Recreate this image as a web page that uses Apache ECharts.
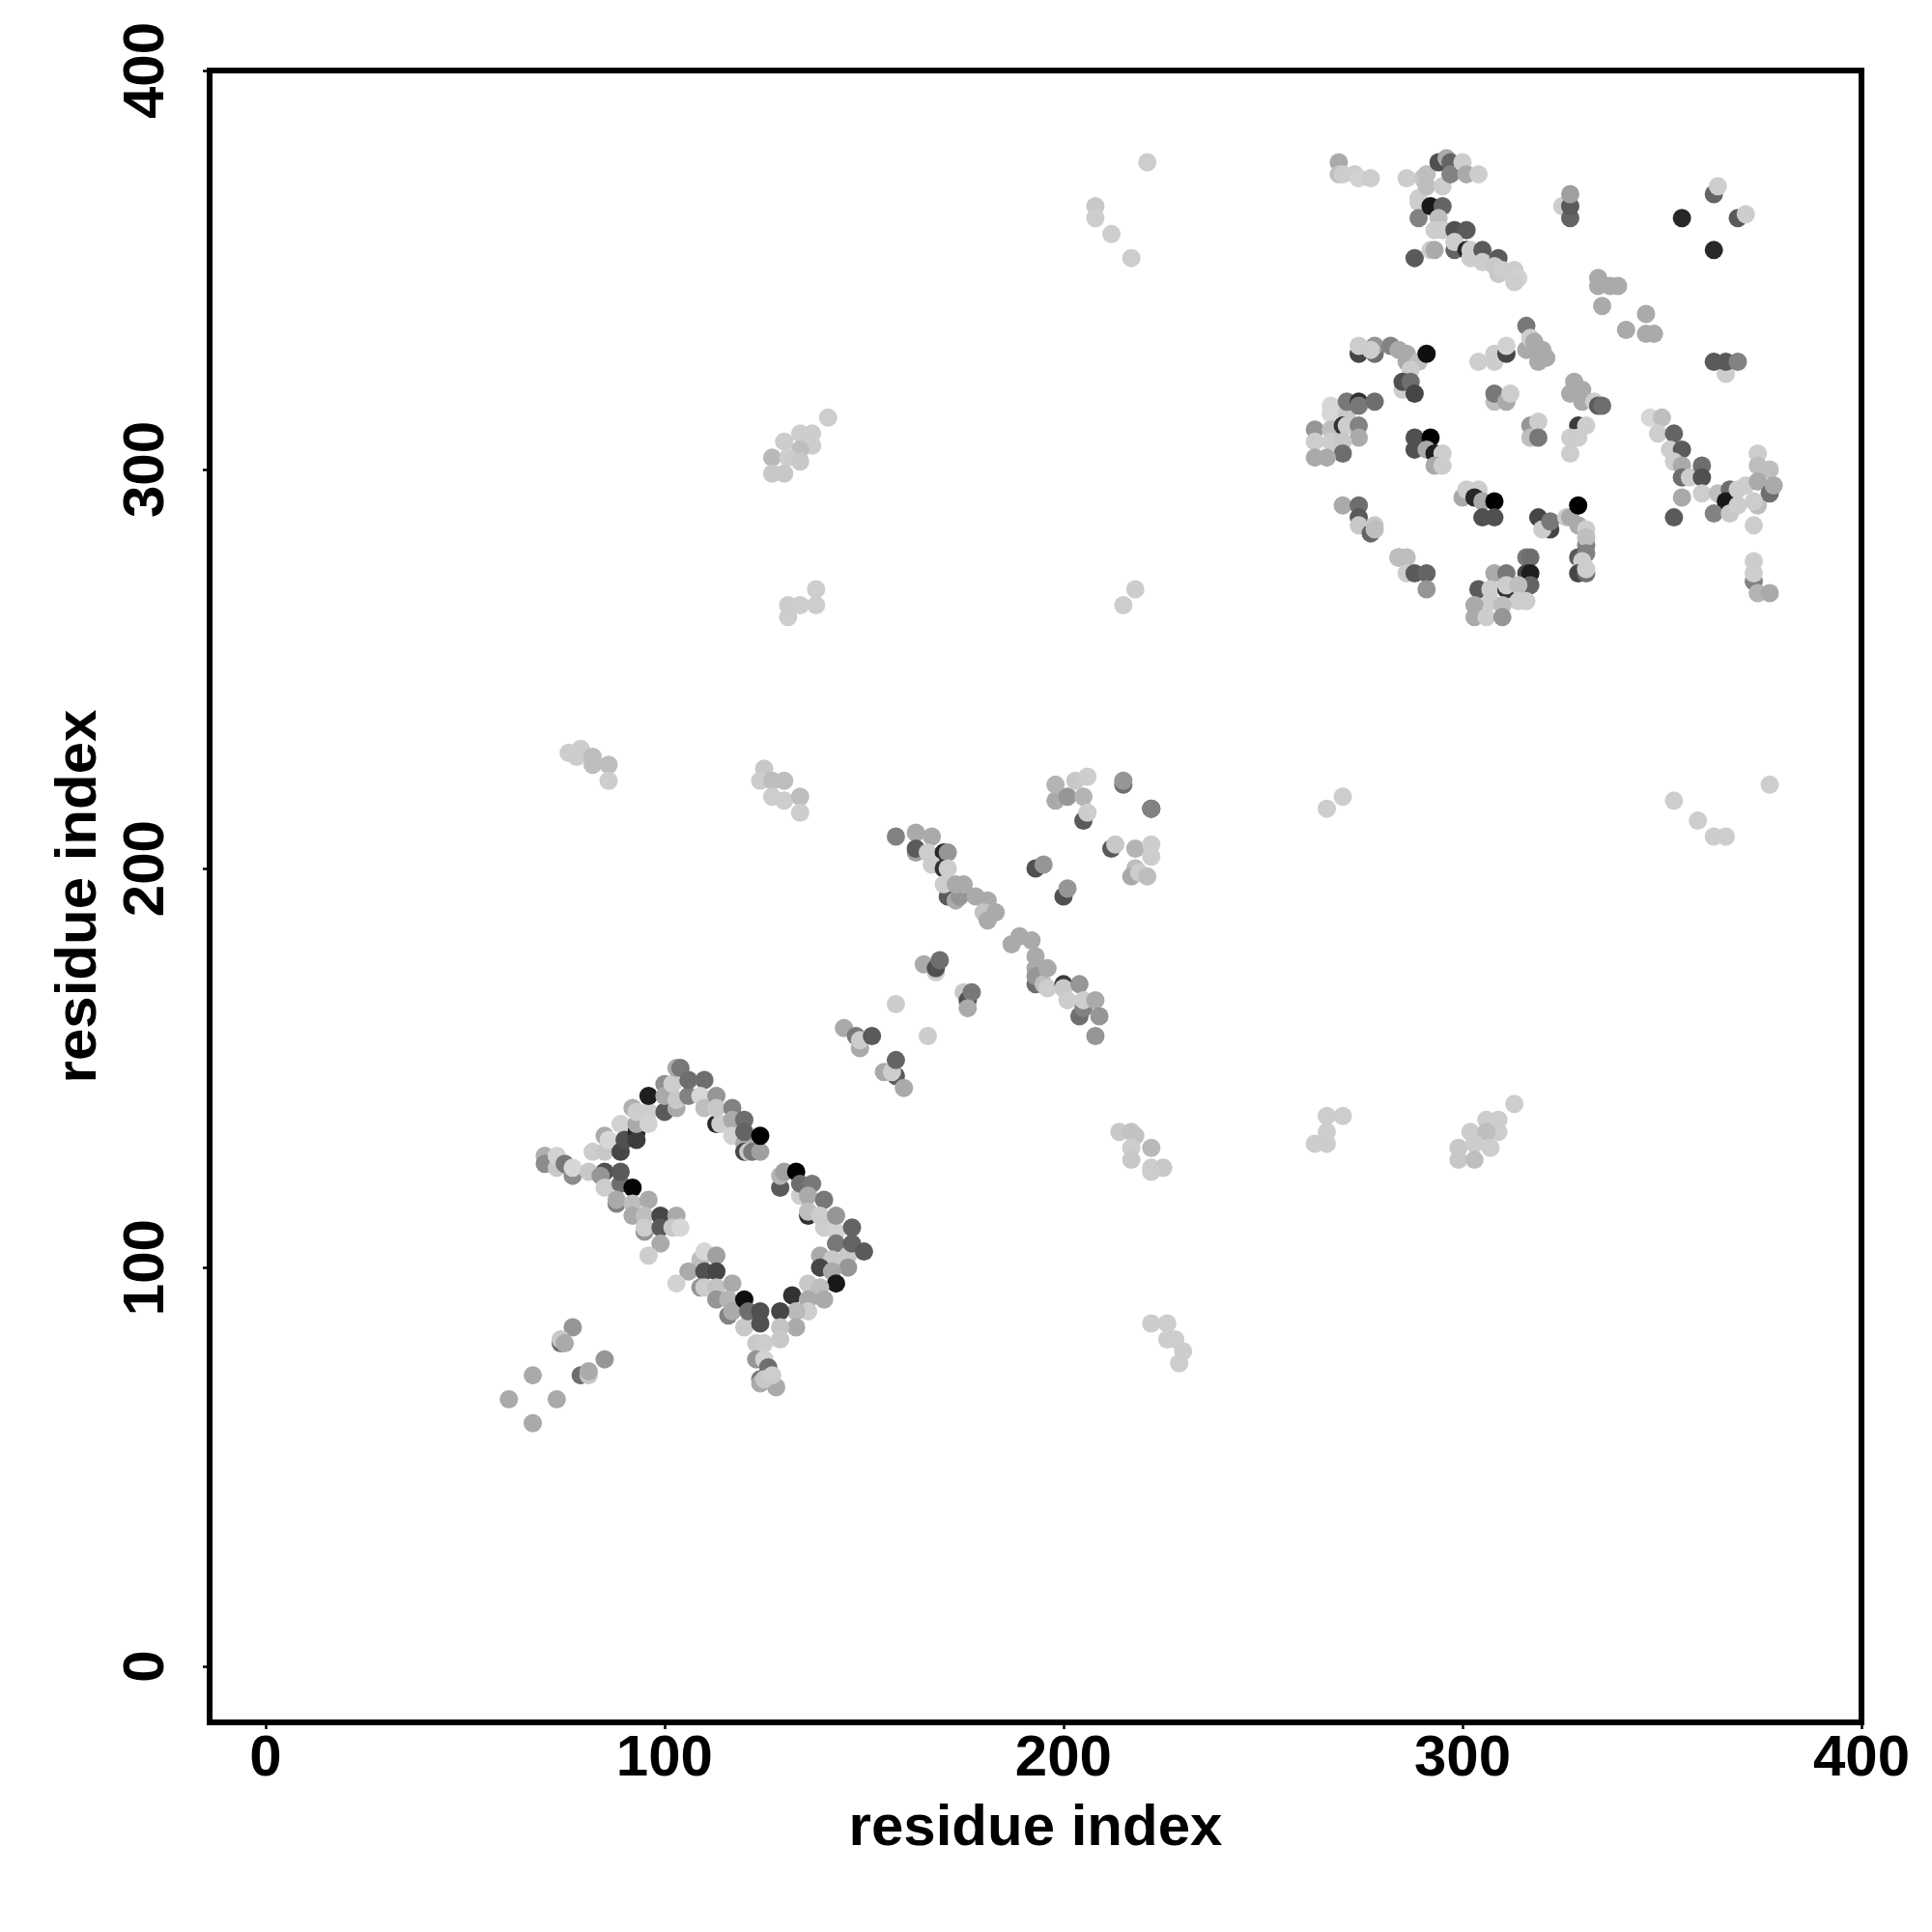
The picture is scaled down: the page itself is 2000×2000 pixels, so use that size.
<!DOCTYPE html>
<html><head><meta charset="utf-8">
<style>html,body{margin:0;padding:0;background:#fff}#c{width:2000px;height:2000px}</style>
<script src="https://cdn.jsdelivr.net/npm/echarts@6/dist/echarts.min.js"></script>
</head><body><div id="c"></div>
<script>
// each contact: [residue i, residue j, grey level]
const tickValues = [0, 100, 200, 300, 400];
const xName = 'residue index';
const yName = 'residue index';
const lowerLeft = [[61,67,170],[67,73,170],[73,67,170],[67,61,170],[77,85,150],[74,81,110],[74,82,200],[75,81,170],[85,77,150],[79,73,110],[81,73,200],[81,74,170]];
const rectTopLeft = [[70,128,175],[70,126,140],[73,125,200],[73,128,210],[75,126,120],[77,123,140],[77,125,215],[81,124,200],[82,129,205],[85,129,200],[85,133,170],[86,132,215],[89,136,210],[89,129,70],[90,132,80],[93,134,35],[93,132,60],[93,136,170],[92,140,175],[93,139,205],[96,139,205],[96,136,210],[100,139,90],[103,140,170],[96,143,30],[100,146,145],[100,143,170],[103,142,200],[102,146,205],[103,150,170],[104,150,120],[106,143,130],[106,147,110],[110,147,110]];
const rectTopRight = [[109,143,215],[110,140,190],[113,136,40],[113,143,150],[113,140,200],[114,136,205],[117,140,130],[117,137,170],[117,133,210],[120,131,170],[120,129,70],[121,129,200],[122,129,120],[124,129,160],[120,137,110],[120,134,100],[124,133,0]];
const rectRight = [[129,120,90],[129,123,180],[130,124,160],[133,124,0],[134,118,205],[134,121,110],[137,121,120],[136,118,170],[136,113,50],[136,114,190],[140,117,120],[139,113,205],[140,110,205],[143,109,210],[143,113,150],[147,110,100],[143,106,120],[146,103,200],[147,106,100],[150,104,90],[139,103,170],[142,102,200],[139,100,70],[146,100,150],[142,99,170],[143,96,25],[136,96,200],[139,95,190],[140,92,170],[132,93,50],[136,92,170],[136,89,205],[133,89,185],[129,89,70],[133,85,170],[129,85,195],[129,82,200]];
const rectLeft = [[85,124,80],[84,123,150],[85,120,205],[89,121,110],[89,124,90],[92,120,5],[88,116,130],[88,117,170],[92,116,190],[96,117,170],[92,113,170],[95,113,190],[99,113,70],[103,113,170],[95,109,150],[95,110,205],[99,110,90],[102,110,200],[104,110,215],[99,106,170],[96,103,205]];
const rectBottom = [[109,102,190],[110,104,215],[113,103,160],[106,99,170],[110,99,80],[113,99,70],[103,96,210],[109,95,150],[110,95,205],[113,95,195],[113,92,150],[117,96,170],[116,88,130],[116,92,180],[117,89,170],[120,92,15],[120,85,200],[121,89,110],[124,89,80],[124,86,80],[123,81,200],[125,81,205],[123,77,150],[125,77,210],[124,72,120],[124,71,170],[128,70,170],[126,75,110],[125,72,200],[127,73,205]];
const diagUpper = [[158,208,130],[163,209,170],[163,204,160],[163,205,90],[167,208,170],[166,204,205],[170,204,40],[171,204,150],[167,201,205],[170,200,50],[171,200,205],[171,193,90],[170,196,205],[173,192,170],[174,193,150],[173,196,170],[175,196,170],[178,193,170],[181,192,170],[180,189,195],[183,189,170],[181,187,170]];
const diagLower = [[189,183,170],[187,181,170],[192,182,170],[193,178,170],[193,175,170],[193,171,110],[193,173,150],[195,171,190],[196,175,170],[196,170,205],[200,171,60],[200,170,200],[204,171,150],[201,167,205],[204,163,110],[205,165,130],[205,167,205],[208,167,170],[209,163,150],[208,158,150]];
const offDiag = [[193,200,80],[195,201,150],[200,193,80],[201,195,150],[158,166,205],[166,158,205],[165,176,170],[168,174,205],[168,175,80],[169,177,110],[175,169,200],[176,167,80],[177,169,120],[176,165,170],[145,160,170],[148,158,120],[149,155,170],[149,157,205],[152,158,90],[155,149,170],[158,148,90],[157,149,205],[158,152,100],[160,145,170]];
const upperCluster = [[198,217,170],[198,221,180],[201,218,150],[203,222,200],[205,218,180],[206,223,205],[205,212,90],[206,214,205],[215,221,110],[215,222,150],[222,215,90],[222,215,130],[212,205,90],[213,206,200],[218,205,180],[222,206,205],[222,203,205],[218,200,190],[217,198,170],[219,199,205],[221,198,190]];
const topRightA = [[269,377,170],[269,374,190],[270,374,205],[273,374,205],[274,373,210],[277,373,205],[286,373,205],[290,373,200],[291,374,190],[289,368,205],[289,367,205],[291,371,190],[289,363,130],[292,366,25],[295,366,100],[295,371,205],[294,377,80],[296,378,170],[297,377,100],[297,374,130],[300,377,205],[301,374,170],[304,374,205],[294,363,190],[293,360,205],[295,360,205],[298,360,80],[301,360,90],[298,355,100],[298,357,205],[288,353,90],[292,355,205],[293,355,170],[301,355,40],[302,355,205],[302,353,205],[305,355,90],[305,352,205],[309,353,90],[308,351,200],[309,349,200],[310,350,205],[313,350,205],[314,348,210],[313,347,205]];
const topRightB = [[325,366,205],[327,363,100],[327,366,90],[327,369,160],[363,369,100],[364,371,205],[369,363,90],[371,364,205],[355,363,40],[363,355,40],[334,348,170],[334,346,170],[337,346,170],[339,346,170],[335,341,170],[346,339,170],[346,334,170],[348,334,170],[341,335,170]];
const ringTop = [[316,336,120],[316,330,170],[317,333,205],[318,332,170],[320,330,170],[319,327,170],[321,328,170],[304,327,205],[308,329,205],[308,327,205],[311,329,70],[311,331,210],[274,329,70],[274,331,205],[278,329,110],[278,331,150],[277,330,205],[282,331,130],[284,330,170],[286,329,170],[286,327,170],[289,327,190],[287,325,205],[291,329,15],[285,320,205],[285,322,80],[287,322,110],[288,319,70],[366,324,205],[363,327,90],[366,327,90],[369,327,130],[308,317,190],[308,319,120],[311,317,170],[312,319,205],[328,322,170],[327,319,170],[330,320,170],[330,317,170],[333,317,205],[334,316,90],[335,316,110]];
const ringLeft = [[267,316,215],[267,314,215],[271,314,200],[271,317,120],[274,317,50],[274,316,120],[278,317,110],[263,310,150],[267,310,190],[270,311,50],[271,311,205],[274,311,130],[274,308,170],[263,307,205],[267,307,205],[270,307,200],[270,304,110],[263,303,170],[266,303,170],[288,308,80],[288,305,80],[292,308,0],[291,305,170],[293,304,30],[295,304,205],[293,301,170],[295,301,205],[317,311,150],[319,312,205],[317,308,190],[319,308,120],[329,311,60],[331,311,205],[327,308,205],[329,308,205],[327,304,205]];
const rightArm = [[347,313,215],[350,313,190],[349,309,205],[353,309,100],[352,305,205],[355,305,90],[353,302,205],[355,301,170],[355,298,110],[357,298,205],[360,301,110],[360,298,80],[355,293,170],[353,288,90],[360,294,205],[364,294,190],[367,295,110],[366,292,25],[363,289,130],[367,289,200],[369,291,205],[369,295,205],[371,296,205],[374,291,190],[373,286,205],[374,304,205],[374,301,190],[377,300,190],[374,297,170],[377,294,110],[378,296,170],[373,292,205],[373,277,205],[373,272,130],[373,274,205],[374,269,180],[377,269,170]];
const ringBottom = [[270,291,170],[274,291,110],[274,288,90],[274,286,200],[277,284,100],[278,286,200],[278,285,190],[300,293,170],[301,295,205],[304,295,205],[303,293,40],[305,292,170],[308,292,0],[305,288,80],[308,288,80],[319,288,70],[322,285,70],[320,285,205],[322,287,120],[326,288,205],[327,288,170],[329,291,0],[329,286,170],[331,285,205],[331,281,130],[331,283,190],[329,278,90],[331,279,130],[330,277,205],[329,274,70],[331,274,110],[331,275,205],[284,278,110],[284,278,190],[286,278,190],[286,274,205],[288,274,90],[291,274,100],[291,270,150],[316,278,120],[317,278,110],[316,274,70],[317,274,30],[317,271,100],[308,274,170],[311,274,120],[304,270,90],[307,270,205],[311,270,50],[311,271,205],[314,271,190],[314,267,205],[316,267,205],[307,267,205],[310,266,190],[303,266,170],[303,263,170],[306,263,205],[310,263,150]];
const lightClusters = [[208,366,200],[208,363,205],[212,359,205],[217,353,205],[221,377,205],[131,263,205],[131,266,205],[134,266,205],[138,266,205],[138,270,205],[215,266,205],[218,270,205],[76,229,205],[79,230,205],[78,228,205],[82,228,190],[82,226,190],[86,226,190],[86,222,205],[266,215,205],[270,218,205],[377,221,205],[353,217,205],[359,212,205],[363,208,205],[366,208,205],[263,131,205],[266,131,205],[266,134,205],[266,138,205],[270,138,205],[222,86,205],[226,86,205],[226,82,205],[228,82,205],[230,79,205],[229,76,205]];
const clusterA = [[141,313,205],[130,307,205],[134,309,205],[137,309,205],[137,306,205],[134,305,190],[127,303,185],[131,303,205],[134,302,200],[127,299,200],[130,299,200]];
const clusterB = [[313,141,205],[302,134,205],[306,137,205],[309,137,205],[309,134,205],[306,134,190],[303,131,205],[307,130,205],[299,130,200],[299,127,200],[303,127,190]];
const clusterC = [[214,134,200],[217,134,195],[218,133,195],[217,130,205],[217,127,200],[222,130,185],[222,125,205],[225,125,200],[222,124,205]];
const clusterD = [[125,225,200],[124,222,205],[127,222,190],[130,222,190],[127,218,205],[130,217,205],[134,218,190],[134,214,205]];

const contacts = [].concat(lowerLeft, rectTopLeft, rectTopRight, rectRight, rectLeft, rectBottom, diagUpper, diagLower, offDiag, upperCluster, topRightA, topRightB, ringTop, ringLeft, rightArm, ringBottom, lightClusters, clusterA, clusterB, clusterC, clusterD);

const axisCommon = {
  type: 'value', min: -14, max: 400, nameLocation: 'middle',
  nameTextStyle: {fontFamily: 'Liberation Sans', fontWeight: 'bold', fontSize: 60, color: '#000'},
  axisLine: {show: false, onZero: false}, splitLine: {show: false},
  axisTick: {show: true, length: 7, lineStyle: {color: '#000', width: 2.5}, customValues: tickValues},
  axisLabel: {fontFamily: 'Liberation Sans', fontWeight: 'bold', fontSize: 60, color: '#000', customValues: tickValues, hideOverlap: false, showMinLabel: true, showMaxLabel: true}
};
const chart = echarts.init(document.getElementById('c'), null, {renderer: 'canvas'});
chart.setOption({
  animation: false,
  backgroundColor: '#fff',
  grid: {show: true, left: 217, top: 73, width: 1710, height: 1710, borderColor: '#000', borderWidth: 6, backgroundColor: 'transparent', z: 0, outerBoundsMode: 'none', containLabel: false},
  xAxis: Object.assign({}, axisCommon, {name: xName, nameGap: 80, axisLabel: Object.assign({}, axisCommon.axisLabel, {margin: 8})}),
  yAxis: Object.assign({}, axisCommon, {name: yName, nameGap: 105, axisLabel: Object.assign({}, axisCommon.axisLabel, {rotate: 90, margin: 35})}),
  visualMap: {show: false, type: 'continuous', min: 0, max: 255, dimension: 2, seriesIndex: 0, inRange: {color: ['#000000', '#ffffff']}},
  series: [{type: 'scatter', data: contacts, symbol: 'circle', symbolSize: 19, clip: false, large: false, itemStyle: {opacity: 1}, emphasis: {disabled: true}}]
});
</script></body></html>
